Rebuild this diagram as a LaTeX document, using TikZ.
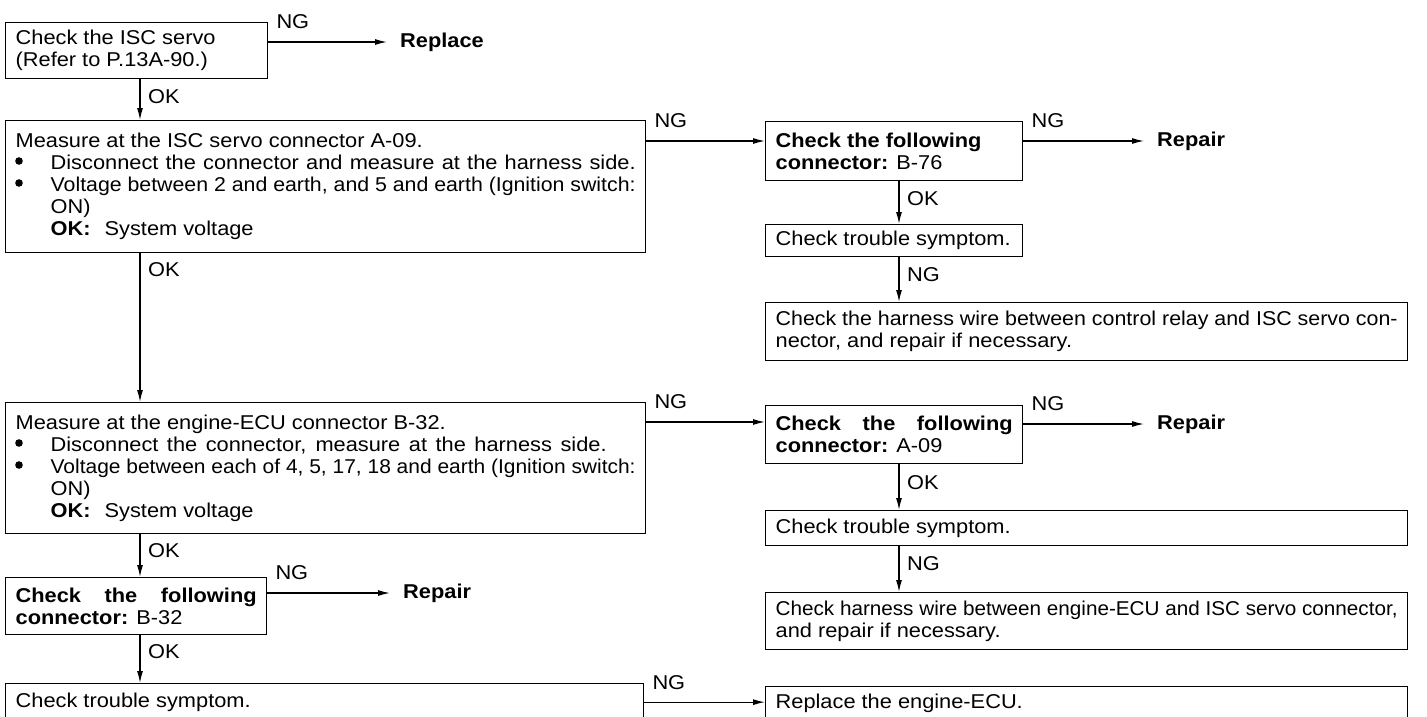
\documentclass[tikz,border=0pt]{standalone}
\usepackage{fontspec}
\usepackage{graphicx}
\setmainfont{Liberation Sans}[FakeStretch=1.09]
\usetikzlibrary{arrows.meta}

% a line set to an exact width: spaces stretched, or the line squeezed when too long
\newsavebox\fitbox
\newcommand\fitline[2]{\sbox\fitbox{#2}\ifdim\wd\fitbox>#1\relax\resizebox{#1}{\height}{\usebox\fitbox}\else\makebox[#1][s]{#2}\fi}
\newcommand\ind{\hspace*{35pt}}
% box text: height, inner width, lines
\newcommand\btext[3]{\parbox[c][#1][c]{#2}{#3}}

\begin{document}
\begin{tikzpicture}[x=1pt,y=-1pt,
  font=\fontsize{20}{22}\selectfont,
  box/.style={draw, line width=1.3pt, inner xsep=10pt, inner ysep=0pt, anchor=north west},
  arr/.style={line width=1.3pt, -{Latex[length=12pt,width=6pt]}},
  lbl/.style={inner sep=0pt, anchor=west},
  term/.style={inner sep=0pt, anchor=west, font=\fontsize{20}{22}\selectfont\bfseries},
  dot/.style={fill=black}]
\useasboundingbox (0,0) rectangle (1427,716);

% left column
\node[box] (b1) at (5,22) {\btext{56pt}{242pt}{Check the ISC servo\\(Refer to P.13A-90.)}};
\node[box] (b2) at (5,120) {\btext{132pt}{620pt}{%
  Measure at the ISC servo connector A-09.\\
  \ind\fitline{585pt}{Disconnect the connector and measure at the harness side.}\\
  \ind\fitline{585pt}{Voltage between 2 and earth, and 5 and earth (Ignition switch:}\\
  \ind ON)\\
  \ind\textbf{OK:}\hspace{0.7em}System voltage}};
\node[box] (b4) at (5,402) {\btext{131pt}{620pt}{%
  Measure at the engine-ECU connector B-32.\\
  \ind\fitline{556pt}{Disconnect the connector, measure at the harness side.}\\
  \ind\fitline{585pt}{Voltage between each of 4, 5, 17, 18 and earth (Ignition switch:}\\
  \ind ON)\\
  \ind\textbf{OK:}\hspace{0.7em}System voltage}};
\node[box] (b6) at (5,577) {\btext{57pt}{241pt}{%
  \fitline{241pt}{\textbf{Check the following}}\\
  \textbf{connector:} B-32}};
\node[box] (b7) at (5,683) {\btext{37pt}{618pt}{Check trouble symptom.}};

% bullets of the two measuring steps
\fill[dot] ([xshift=14pt,yshift=-41pt]b2.north west) circle (3.8pt);
\fill[dot] ([xshift=14pt,yshift=-63pt]b2.north west) circle (3.8pt);
\fill[dot] ([xshift=14pt,yshift=-41pt]b4.north west) circle (3.8pt);
\fill[dot] ([xshift=14pt,yshift=-63pt]b4.north west) circle (3.8pt);

% right column
\node[box] (r1) at (765,121) {\btext{59pt}{237pt}{%
  \textbf{Check the following}\\
  \textbf{connector:} B-76}};
\node[box] (r2) at (765,224) {\btext{32pt}{237pt}{Check trouble symptom.}};
\node[box] (r3) at (765,302) {\btext{58pt}{622pt}{%
  \fitline{622pt}{Check the harness wire between control relay and ISC servo con-}\\
  nector, and repair if necessary.}};
\node[box] (r4) at (765,405) {\btext{58pt}{237pt}{%
  \fitline{237pt}{\textbf{Check the following}}\\
  \textbf{connector:} A-09}};
\node[box] (r5) at (765,510) {\btext{35pt}{622pt}{Check trouble symptom.}};
\node[box] (r6) at (765,592) {\btext{57pt}{622pt}{%
  \fitline{622pt}{Check harness wire between engine-ECU and ISC servo connector,}\\
  and repair if necessary.}};
\node[box] (r7) at (765,686) {\btext{34pt}{622pt}{Replace the engine-ECU.}};

% end results
\node[term] (t1) at (400,42) {Replace};
\node[term] (t2) at (1157,141) {Repair};
\node[term] (t3) at (1157,424) {Repair};
\node[term] (t4) at (403,593) {Repair};

% NG branches
\coordinate (s1) at ([yshift=-20pt]b1.north east);
\coordinate (s2) at ([yshift=-21pt]b2.north east);
\coordinate (s3) at ([yshift=-20pt]r1.north east);
\coordinate (s4) at ([yshift=-20pt]b4.north east);
\coordinate (s5) at ([yshift=-19pt]r4.north east);
\coordinate (s6) at ([yshift=-16pt]b6.north east);
\coordinate (s7) at (b7.east);
\draw[arr, shorten >=13pt] (s1) -- (t1.west);
\draw[arr] (s2) -- (s2 -| r1.west);
\draw[arr, shorten >=13pt] (s3) -- (t2.west);
\draw[arr] (s4) -- (s4 -| r4.west);
\draw[arr, shorten >=13pt] (s5) -- (t3.west);
\draw[arr, shorten >=13pt] (s6) -- (t4.west);
\draw[arr] (s7) -- (s7 -| r7.west);
\node[lbl] (ng1) at ([xshift=8pt,yshift=20pt]s1) {NG};
\node[lbl] (ng2) at ([xshift=8pt,yshift=20pt]s2) {NG};
\node[lbl] (ng3) at ([xshift=8pt,yshift=20pt]s3) {NG};
\node[lbl] (ng4) at ([xshift=8pt,yshift=20pt]s4) {NG};
\node[lbl] (ng5) at ([xshift=8pt,yshift=20pt]s5) {NG};
\node[lbl] (ng6) at ([xshift=8pt,yshift=20pt]s6) {NG};
\node[lbl] (ng7) at ([xshift=8pt,yshift=20pt]s7) {NG};

% OK / NG steps downwards
\coordinate (v1) at ([xshift=135pt]b1.south west);
\coordinate (v2) at ([xshift=135pt]b2.south west);
\coordinate (v3) at ([xshift=135pt]b4.south west);
\coordinate (v4) at ([xshift=135pt]b6.south west);
\coordinate (w1) at ([xshift=134pt]r1.south west);
\coordinate (w2) at ([xshift=134pt]r2.south west);
\coordinate (w3) at ([xshift=134pt]r4.south west);
\coordinate (w4) at ([xshift=134pt]r5.south west);
\draw[arr] (v1) -- (v1 |- b2.north);
\draw[arr] (v2) -- (v2 |- b4.north);
\draw[arr] (v3) -- (v3 |- b6.north);
\draw[arr] (v4) -- (v4 |- b7.north);
\draw[arr] (w1) -- (w1 |- r2.north);
\draw[arr] (w2) -- (w2 |- r3.north);
\draw[arr] (w3) -- (w3 |- r5.north);
\draw[arr] (w4) -- (w4 |- r6.north);
\node[lbl] (ok1) at ([xshift=8pt,yshift=-17pt]v1) {OK};
\node[lbl] (ok2) at ([xshift=8pt,yshift=-16pt]v2) {OK};
\node[lbl] (ok3) at ([xshift=8pt,yshift=-16pt]v3) {OK};
\node[lbl] (ok4) at ([xshift=8pt,yshift=-16pt]v4) {OK};
\node[lbl] (ok5) at ([xshift=8pt,yshift=-17pt]w1) {OK};
\node[lbl] (ng8) at ([xshift=8pt,yshift=-17pt]w2) {NG};
\node[lbl] (ok6) at ([xshift=8pt,yshift=-18pt]w3) {OK};
\node[lbl] (ng9) at ([xshift=8pt,yshift=-17pt]w4) {NG};
\end{tikzpicture}
\end{document}
